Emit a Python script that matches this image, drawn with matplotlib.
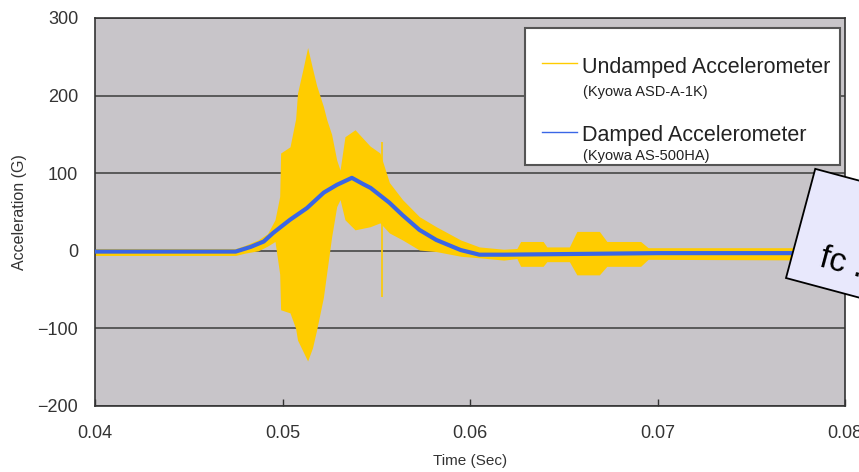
import matplotlib
matplotlib.use("Agg")
import matplotlib.pyplot as plt
from matplotlib.patches import Rectangle
from matplotlib.lines import Line2D

plt.rcParams['font.family'] = ['Liberation Sans', 'DejaVu Sans']

# undamped accelerometer: envelope of the fast oscillation (time s, G)
undamped_t = [0.0400, 0.0475, 0.0480, 0.0487, 0.0492, 0.0496, 0.04985, 0.0499,
              0.0504, 0.0507, 0.0508, 0.0511, 0.05134, 0.0516, 0.05182, 0.05218,
              0.05236, 0.05262, 0.05289, 0.05307, 0.05333, 0.05387, 0.05467, 0.0552,
              0.0557, 0.0564, 0.0573, 0.0582, 0.0595, 0.0605, 0.0618, 0.0625,
              0.0627, 0.0639, 0.0641, 0.0653, 0.0657, 0.0669, 0.0673, 0.0691,
              0.0695, 0.0800]
undamped_hi = [3, 3, 7, 14, 22, 40, 70, 126,
               134, 170, 203, 235, 262, 235, 213, 186,
               169, 150, 117, 104, 147, 156, 135, 126,
               88, 66, 44, 31, 14, 5, 2, 3,
               12, 12, 5, 5, 25, 25, 12, 12,
               4, 4]
undamped_lo = [-6, -6, -3, 0, 6, 12, -30, -76,
               -80, -100, -115, -130, -142, -125, -102, -60,
               -28, 18, 57, 66, 40, 27, 31, 36,
               23, 14, 1, -1, -7, -9, -12, -10,
               -20, -20, -14, -14, -31, -31, -20, -20,
               -11, -12]

# single spike in the undamped signal
spike_t = [0.05528]
spike_lo = [-60]
spike_hi = [140]

# damped accelerometer
damped_t = [0.0400, 0.0440, 0.0475, 0.0483, 0.0490, 0.0495, 0.0504, 0.0513,
            0.0522, 0.0529, 0.0537, 0.0543, 0.0547, 0.0557, 0.0564, 0.0573,
            0.0582, 0.0595, 0.0605, 0.0618, 0.0700, 0.0800]
damped_v = [-1, -1, -1, 5, 12, 23, 40, 55,
            75, 85, 94, 86, 81, 62, 46, 27,
            14, 1, -5, -5, -3, -3]

xticks = [0.04, 0.05, 0.06, 0.07, 0.08]
xtick_labels = ['0.04', '0.05', '0.06', '0.07', '0.08']
yticks = [-200, -100, 0, 100, 200, 300]

yellow = '#ffcc00'
blue = '#3a66e6'

fig = plt.figure(figsize=(8.59, 4.72), dpi=100)
ax = fig.add_axes([95 / 859, 66 / 472, 750 / 859, 388 / 472])
ax.set_facecolor('#c8c5c9')

ax.fill_between(undamped_t, undamped_lo, undamped_hi, color=yellow, lw=0, zorder=2)
ax.vlines(spike_t, spike_lo, spike_hi, color=yellow, lw=1.2, zorder=2)
ax.plot(damped_t, damped_v, color=blue, lw=3, zorder=3)

ax.set_xlim(0.04, 0.08)
ax.set_ylim(-200, 300)
ax.set_xticks(xticks)
ax.set_xticklabels(xtick_labels)
ax.set_yticks(yticks)
ax.yaxis.grid(True, color='#3c3c3c', lw=1.1)
ax.set_axisbelow(True)
ax.tick_params(axis='x', direction='in', length=5, width=1, pad=14, labelsize=13,
               colors='#333333')
ax.tick_params(axis='y', length=0, pad=12, labelsize=13, colors='#333333')
for s in ax.spines.values():
    s.set_color('#333333')
    s.set_linewidth(1.2)

ax.set_xlabel('Time (Sec)', fontsize=11, color='#333333')
ax.xaxis.set_label_coords(0.5, -0.125)
ax.set_ylabel('Acceleration (G)', fontsize=11.5, color='#333333')
ax.yaxis.set_label_coords(-0.09, 0.5)

# legend drawn by hand (two font sizes per entry)
tr = ax.transAxes
ax.add_patch(Rectangle((0.5733, 0.6211), 0.42, 0.3531, transform=tr, facecolor='white',
                       edgecolor='#555555', lw=1.5, zorder=5))
ax.add_line(Line2D([0.596, 0.6427], [0.884, 0.884], transform=tr, color=yellow, lw=1, zorder=6))
ax.add_line(Line2D([0.596, 0.6427], [0.7062, 0.7062], transform=tr, color=blue, lw=1, zorder=6))
ax.text(0.6493, 0.8575, 'Undamped Accelerometer', transform=tr, fontsize=15.5,
        va='baseline', color='#222222', zorder=6)
ax.text(0.6507, 0.799, '(Kyowa ASD-A-1K)', transform=tr, fontsize=10.5,
        va='baseline', color='#222222', zorder=6)
ax.text(0.6493, 0.6838, 'Damped Accelerometer', transform=tr, fontsize=15.5,
        va='baseline', color='#222222', zorder=6)
ax.text(0.6507, 0.634, '(Kyowa AS-500HA)', transform=tr, fontsize=10.5,
        va='baseline', color='#222222', zorder=6)

# rotated callout box at the right edge, cut off by the figure border
box = Rectangle((7.86, 1.94), 1.6, 1.13, angle=-15, transform=fig.dpi_scale_trans,
                facecolor='#e8e8fc', edgecolor='black', lw=1.3, zorder=10)
fig.add_artist(box)
fig.text(8.18, 2.06, 'fc .', transform=fig.dpi_scale_trans, fontsize=24,
         rotation=-15, rotation_mode='anchor', ha='left', va='baseline', zorder=11)

fig.savefig('out.png', dpi=100)
